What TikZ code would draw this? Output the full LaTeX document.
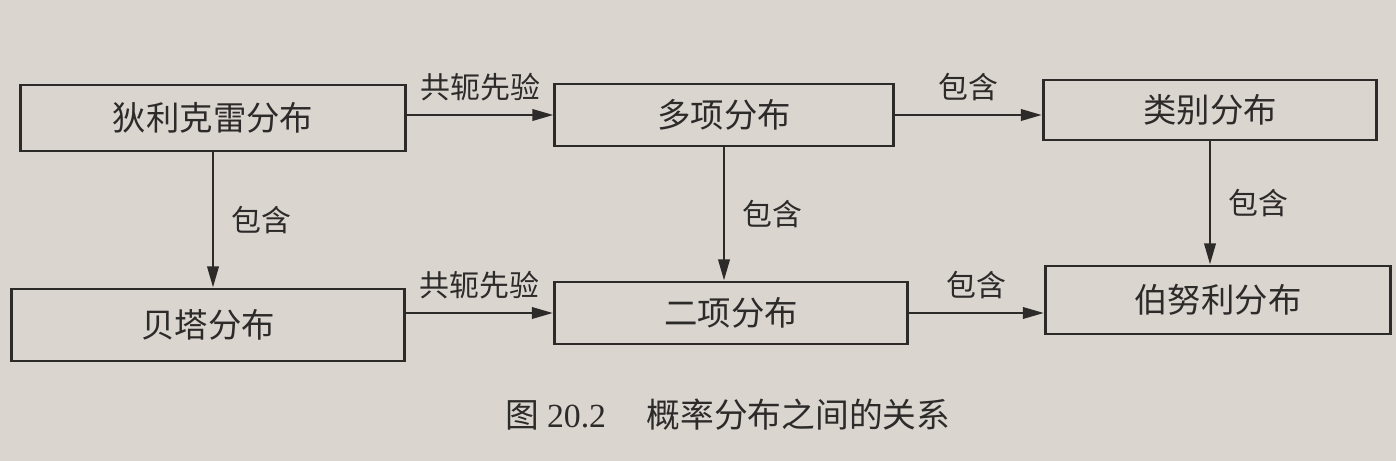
\documentclass[tikz,border=0pt]{standalone}
\usepackage{fontspec}
\setmainfont{Noto Sans CJK SC}
\newfontfamily\latinserif{Liberation Serif}
\usetikzlibrary{arrows.meta,calc}
\definecolor{paper}{RGB}{218,213,207}
\definecolor{ink}{RGB}{45,42,42}
\tikzset{
  distbox/.style={draw=ink,line width=0.8pt,inner sep=0pt,text=ink,font=\fontsize{9.5pt}{11pt}\selectfont},
  arr/.style={draw=ink,line width=0.8pt,-{Triangle[length=6pt,width=3.2pt]}},
  lbl/.style={text=ink,font=\fontsize{8.5pt}{10pt}\selectfont,inner sep=1pt},
}
\begin{document}
\begin{tikzpicture}[x=0.01cm,y=-0.01cm]
\fill[paper] (0,0) rectangle (1396,461);
\useasboundingbox (0,0) rectangle (1396,461);
\node[distbox,minimum width=3.85cm,minimum height=0.66cm] (b1) at (213,118) {狄利克雷分布};
\node[distbox,minimum width=3.38cm,minimum height=0.62cm] (b2) at (724,115) {多项分布};
\node[distbox,minimum width=3.33cm,minimum height=0.60cm] (b3) at (1210,110) {类别分布};
\node[distbox,minimum width=3.93cm,minimum height=0.72cm] (b4) at (208,325) {贝塔分布};
\node[distbox,minimum width=3.53cm,minimum height=0.62cm] (b5) at (731,313) {二项分布};
\node[distbox,minimum width=3.45cm,minimum height=0.68cm] (b6) at (1218,300) {伯努利分布};
\draw[arr] (b1.east |- b2.west) -- node[lbl,above=2.5pt] (l1) {共轭先验} (b2.west);
\draw[arr] (b2.east) -- node[lbl,above=2.5pt] (l2) {包含} (b2.east -| b3.west);
\draw[arr] (b4.east |- b5.west) -- node[lbl,above=2.5pt] (l3) {共轭先验} (b5.west);
\draw[arr] (b5.east) -- node[lbl,above=2.5pt] (l4) {包含} (b5.east -| b6.west);
\draw[arr] (b1.south) -- node[lbl,right=4pt] (l5) {包含} (b1.south |- b4.north);
\draw[arr] (b2.south) -- node[lbl,right=4pt] (l6) {包含} (b2.south |- b5.north);
\draw[arr] (b3.south) -- node[lbl,right=4pt] (l7) {包含} (b3.south |- b6.north);
\node[text=ink,font=\fontsize{9.6pt}{12pt}\selectfont,anchor=west,inner sep=0pt] (cap) at (505,415) {图 {\latinserif 20.2}\hspace{1.2em}概率分布之间的关系};
\end{tikzpicture}
\end{document}
